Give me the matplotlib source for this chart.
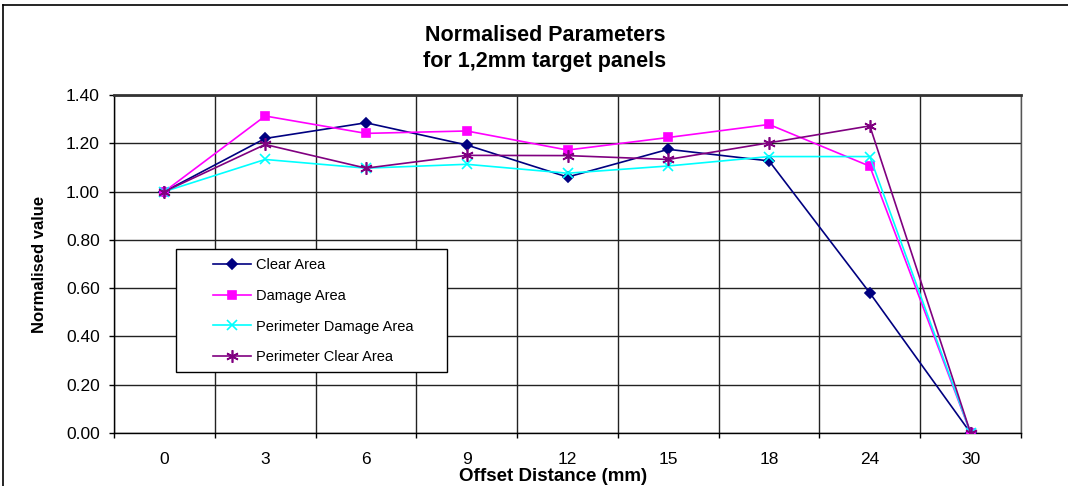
import matplotlib
matplotlib.use("Agg")
import matplotlib.pyplot as plt
from matplotlib.lines import Line2D
from matplotlib.patches import Rectangle

plt.rcParams['font.family'] = ['Liberation Sans', 'DejaVu Sans']

offsets = ["0", "3", "6", "9", "12", "15", "18", "24", "30"]
clear_area = [1.00, 1.22, 1.285, 1.193, 1.06, 1.175, 1.127, 0.58, 0.0]
damage_area = [1.00, 1.313, 1.241, 1.251, 1.172, 1.224, 1.278, 1.105, 0.0]
perimeter_damage_area = [1.00, 1.133, 1.097, 1.113, 1.076, 1.106, 1.145, 1.145, 0.0]
perimeter_clear_area = [1.00, 1.195, 1.097, 1.150, 1.149, 1.133, 1.202, 1.272, 0.0]

series = [
    ("Clear Area", clear_area, "#000080", "D", 5),
    ("Damage Area", damage_area, "#FF00FF", "s", 6),
    ("Perimeter Damage Area", perimeter_damage_area, "#00FFFF", "x", 7),
    ("Perimeter Clear Area", perimeter_clear_area, "#800080", (6, 2, 0), 9),
]

W, H = 1068, 486
fig = plt.figure(figsize=(W / 100, H / 100), dpi=100)
fig.patch.set_facecolor("white")

# chart border (top and left edges)
fig.add_artist(Line2D([3 / W, 3 / W], [0, 1 - 5 / H], transform=fig.transFigure,
                      color="black", lw=1.2))
fig.add_artist(Line2D([3 / W, 1], [1 - 5 / H, 1 - 5 / H], transform=fig.transFigure,
                      color="black", lw=1.2))

left, right, top, bottom = 114, 1021, 95, 433
aw, ah = right - left, bottom - top
ax = fig.add_axes([left / W, 1 - bottom / H, aw / W, ah / H])


def ax_x(px):
    return (px - left) / aw


def ax_y(py):
    return (bottom - py) / ah


x = list(range(len(offsets)))
for name, vals, color, marker, ms in series:
    ax.plot(x, vals, color=color, lw=1.2, marker=marker, markersize=ms,
            markeredgewidth=1.2, label=name, zorder=3)

ax.set_xlim(-0.5, len(offsets) - 0.5)
ax.set_ylim(0, 1.4)

# category boundaries carry the ticks and vertical grid; labels sit at centres
ax.set_xticks([i - 0.5 for i in range(len(offsets) + 1)])
ax.set_xticklabels([])
ax.set_xticks(x, minor=True)
ax.set_xticklabels(offsets, minor=True, fontsize=12.5)
ax.tick_params(axis="x", which="minor", length=0, pad=14)
ax.tick_params(axis="x", which="major", length=3.6, width=1, direction="out")

yt = [i * 0.2 for i in range(8)]
ax.set_yticks(yt)
ax.set_yticklabels([f"{v:.2f}" for v in yt], fontsize=12.5)
ax.tick_params(axis="y", length=3.6, width=1, direction="out", pad=6.5)

ax.grid(True, which="major", color="#222222", lw=1.0)
ax.set_axisbelow(True)

for s in ["left", "bottom"]:
    ax.spines[s].set_color("black")
    ax.spines[s].set_linewidth(1.0)
ax.spines["top"].set_color("#333333")
ax.spines["top"].set_linewidth(2.0)
ax.spines["right"].set_color("#555555")
ax.spines["right"].set_linewidth(1.0)

ax.set_ylabel("Normalised value", fontsize=12, fontweight="bold", va="center")
ax.yaxis.set_label_coords(ax_x(40), 0.5)
ax.set_xlabel("Offset Distance (mm)", fontsize=13.5, fontweight="bold", va="center")
ax.xaxis.set_label_coords(ax_x(553), ax_y(476))

fig.text(545 / W, 1 - 41 / H, "Normalised Parameters",
         ha="center", va="baseline", fontsize=15.5, fontweight="bold")
fig.text(545 / W, 1 - 67 / H, "for 1,2mm target panels",
         ha="center", va="baseline", fontsize=15.5, fontweight="bold")

# legend box
ax.add_patch(Rectangle((ax_x(176), ax_y(372)), ax_x(447) - ax_x(176),
                       ax_y(249) - ax_y(372), transform=ax.transAxes,
                       facecolor="white", edgecolor="black", lw=1.0, zorder=4))
leg = ax.legend(loc="upper left", bbox_to_anchor=(ax_x(213), ax_y(258)),
                fontsize=10.5, frameon=False, handlelength=2.6,
                labelspacing=1.15, borderpad=0, handletextpad=0.35,
                borderaxespad=0)
leg.set_zorder(5)

fig.savefig("out.png", dpi=100, facecolor="white")
